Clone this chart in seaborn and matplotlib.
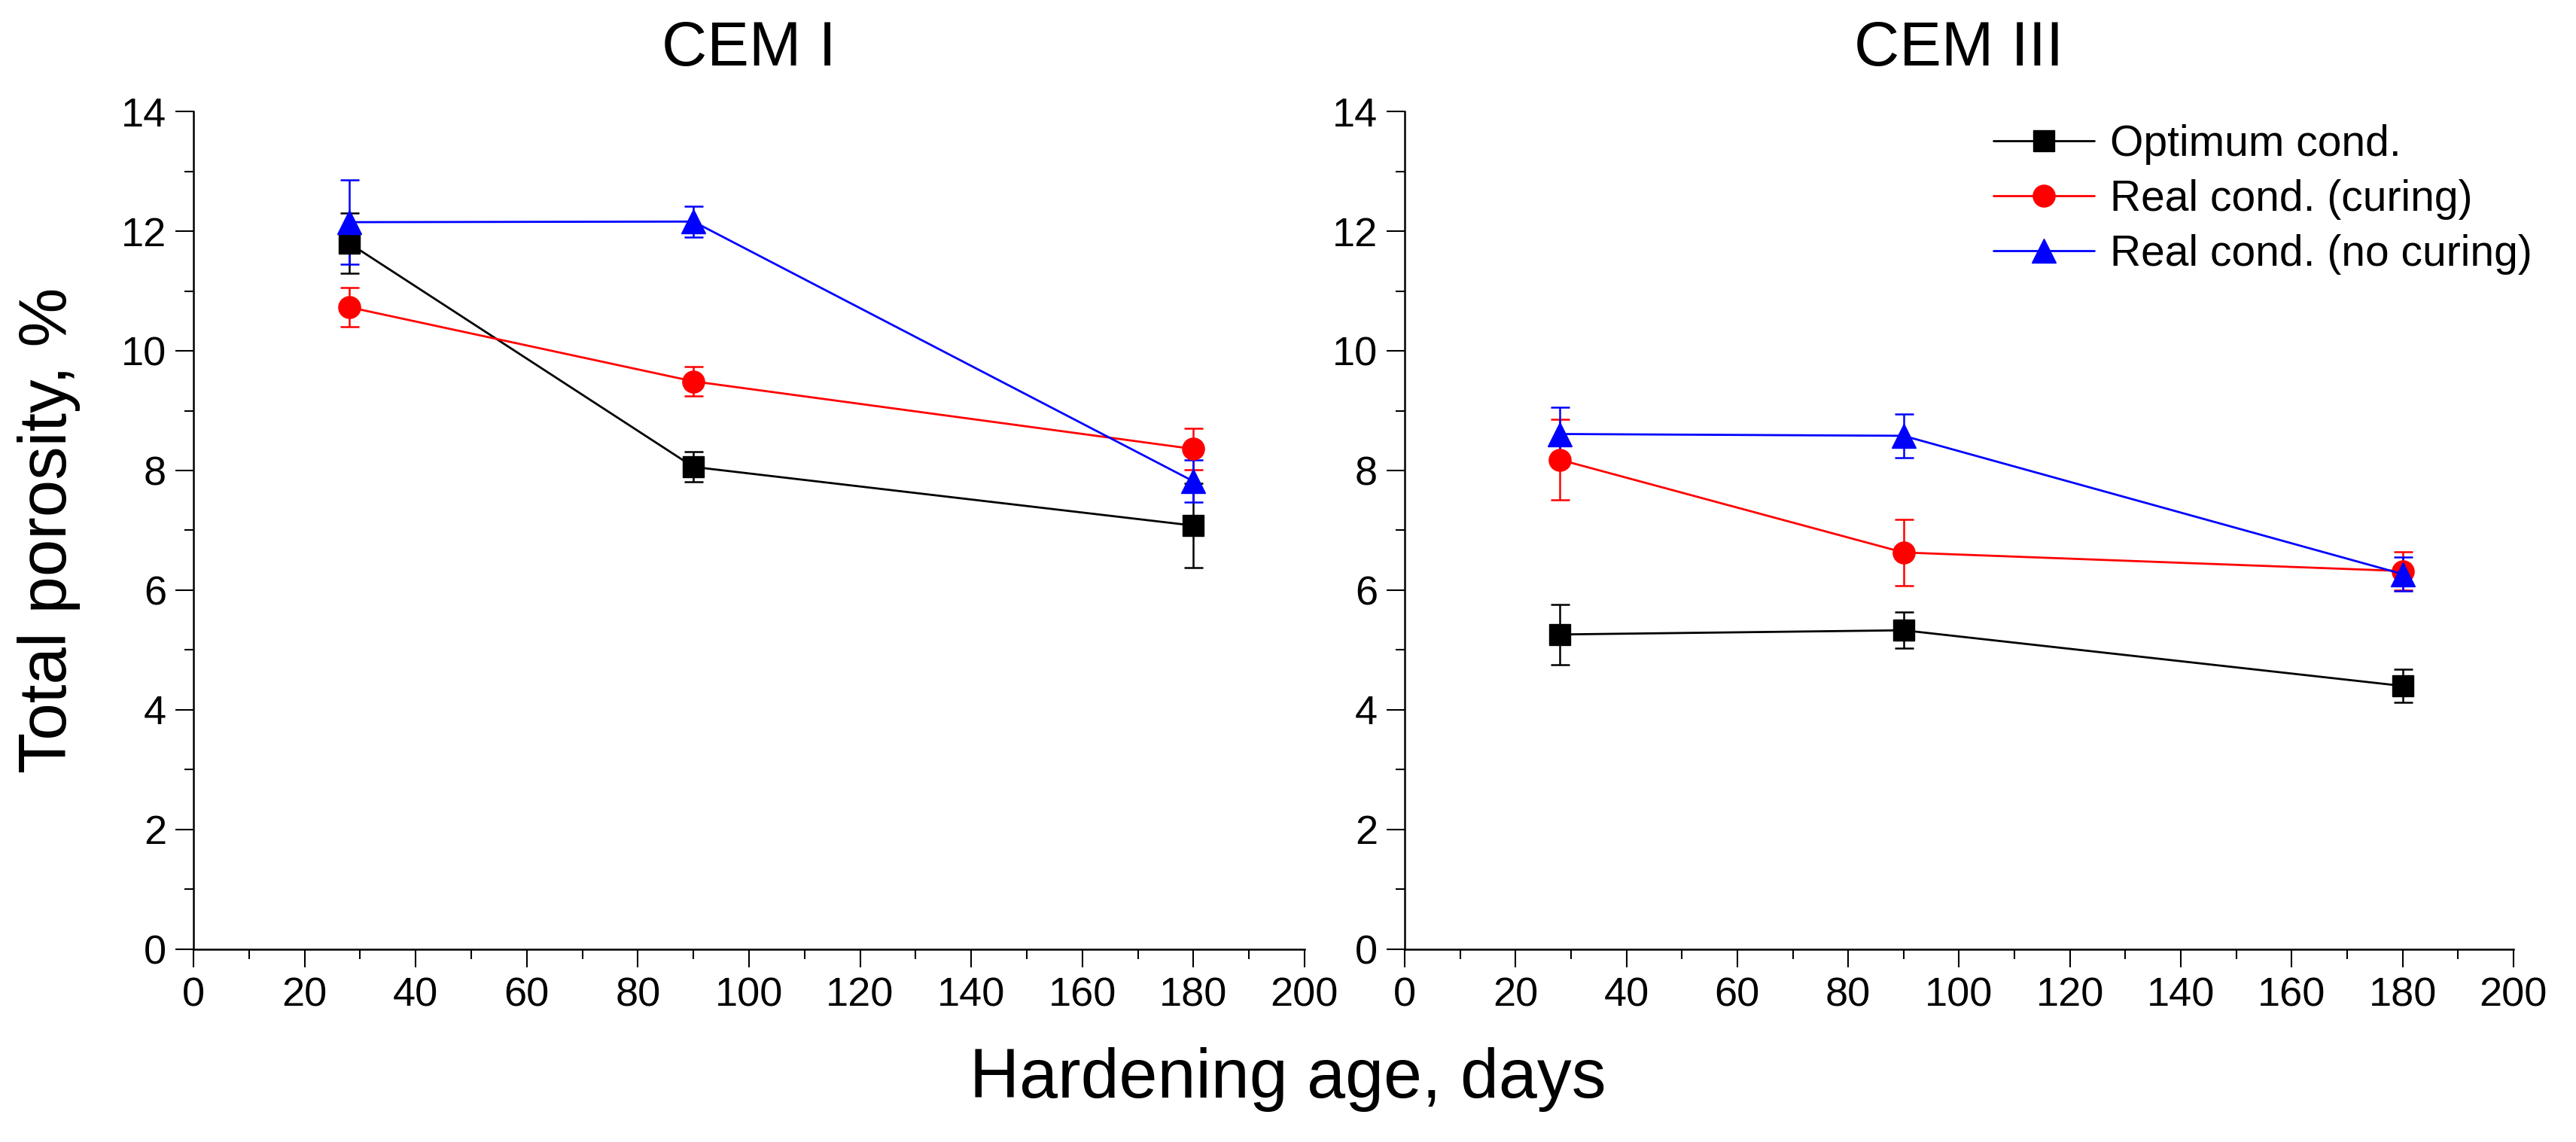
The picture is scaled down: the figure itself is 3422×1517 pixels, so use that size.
import matplotlib
matplotlib.use("Agg")
import matplotlib.pyplot as plt
import seaborn as sns
import pandas as pd
from matplotlib.ticker import MultipleLocator

# hardening ages (days)
ages = [28, 90, 180]

# CEM I - total porosity (%) and error
cem1_opt = [11.80, 8.06, 7.08]
cem1_opt_err = [0.50, 0.25, 0.70]
cem1_cur = [10.73, 9.49, 8.36]
cem1_cur_err = [0.33, 0.24, 0.35]
cem1_nocur = [12.15, 12.16, 7.82]
cem1_nocur_err = [0.70, 0.26, 0.35]

# CEM III - total porosity (%) and error
cem3_opt = [5.26, 5.33, 4.40]
cem3_opt_err = [0.50, 0.30, 0.28]
cem3_cur = [8.18, 6.63, 6.32]
cem3_cur_err = [0.67, 0.55, 0.32]
cem3_nocur = [8.61, 8.58, 6.27]
cem3_nocur_err = [0.45, 0.36, 0.28]

labels = ['Optimum cond.', 'Real cond. (curing)', 'Real cond. (no curing)']
colors = ['black', 'red', 'blue']
markers = ['s', 'o', '^']
msizes = [20, 21, 23]

sns.set_style('ticks')
plt.rcParams['font.family'] = ['Liberation Sans', 'DejaVu Sans']
plt.rcParams['text.color'] = 'black'
plt.rcParams['axes.labelcolor'] = 'black'
plt.rcParams['xtick.color'] = 'black'
plt.rcParams['ytick.color'] = 'black'

fig = plt.figure(figsize=(34.22, 15.17), dpi=100)
ax1 = fig.add_axes([0.0751, 0.1688, 0.4313, 0.7336])
ax2 = fig.add_axes([0.5453, 0.1688, 0.4304, 0.7336])

panels = [
    (ax1, 'CEM I', [(cem1_opt, cem1_opt_err), (cem1_cur, cem1_cur_err), (cem1_nocur, cem1_nocur_err)]),
    (ax2, 'CEM III', [(cem3_opt, cem3_opt_err), (cem3_cur, cem3_cur_err), (cem3_nocur, cem3_nocur_err)]),
]

for ax, title, series in panels:
    for (vals, errs), lab, c, m, ms in zip(series, labels, colors, markers, msizes):
        df = pd.DataFrame({'age': ages, 'porosity': vals})
        ax.errorbar(ages, vals, yerr=errs, fmt='none', ecolor=c, elinewidth=1.8,
                    capsize=9, capthick=1.8, zorder=2)
        sns.lineplot(data=df, x='age', y='porosity', ax=ax, color=c, marker=m,
                     markersize=ms, markeredgecolor=c, markeredgewidth=1,
                     linewidth=2, label=lab, legend=False, zorder=3)
    ax.set_xlim(0, 200)
    ax.set_ylim(0, 14)
    ax.xaxis.set_major_locator(MultipleLocator(20))
    ax.xaxis.set_minor_locator(MultipleLocator(10))
    ax.yaxis.set_major_locator(MultipleLocator(2))
    ax.yaxis.set_minor_locator(MultipleLocator(1))
    ax.tick_params(which='major', direction='out', length=17, width=1.5,
                   labelsize=39, pad=9, color='black', labelcolor='black')
    ax.tick_params(which='minor', direction='out', length=9, width=1.5, color='black')
    for s in ['top', 'right']:
        ax.spines[s].set_visible(False)
    for s in ['left', 'bottom']:
        ax.spines[s].set_linewidth(1.8)
        ax.spines[s].set_color('black')
    ax.set_xlabel('')
    ax.set_ylabel('')
    ax.set_title(title, fontsize=60, pad=44, color='black')

handles, lbls = ax2.get_legend_handles_labels()
fig.legend(handles, lbls, loc='center left', bbox_to_anchor=(0.7738, 0.8253),
           frameon=False, fontsize=41, handlelength=2.35, handletextpad=0.38,
           labelspacing=0.33, borderpad=0, borderaxespad=0)

fig.text(0.5, 0.039, 'Hardening age, days', fontsize=66, ha='center', va='baseline')
fig.text(0.019, 0.536, 'Total porosity, %', fontsize=64, ha='center', va='center',
         rotation=90)

fig.savefig('out.png', dpi=100)
